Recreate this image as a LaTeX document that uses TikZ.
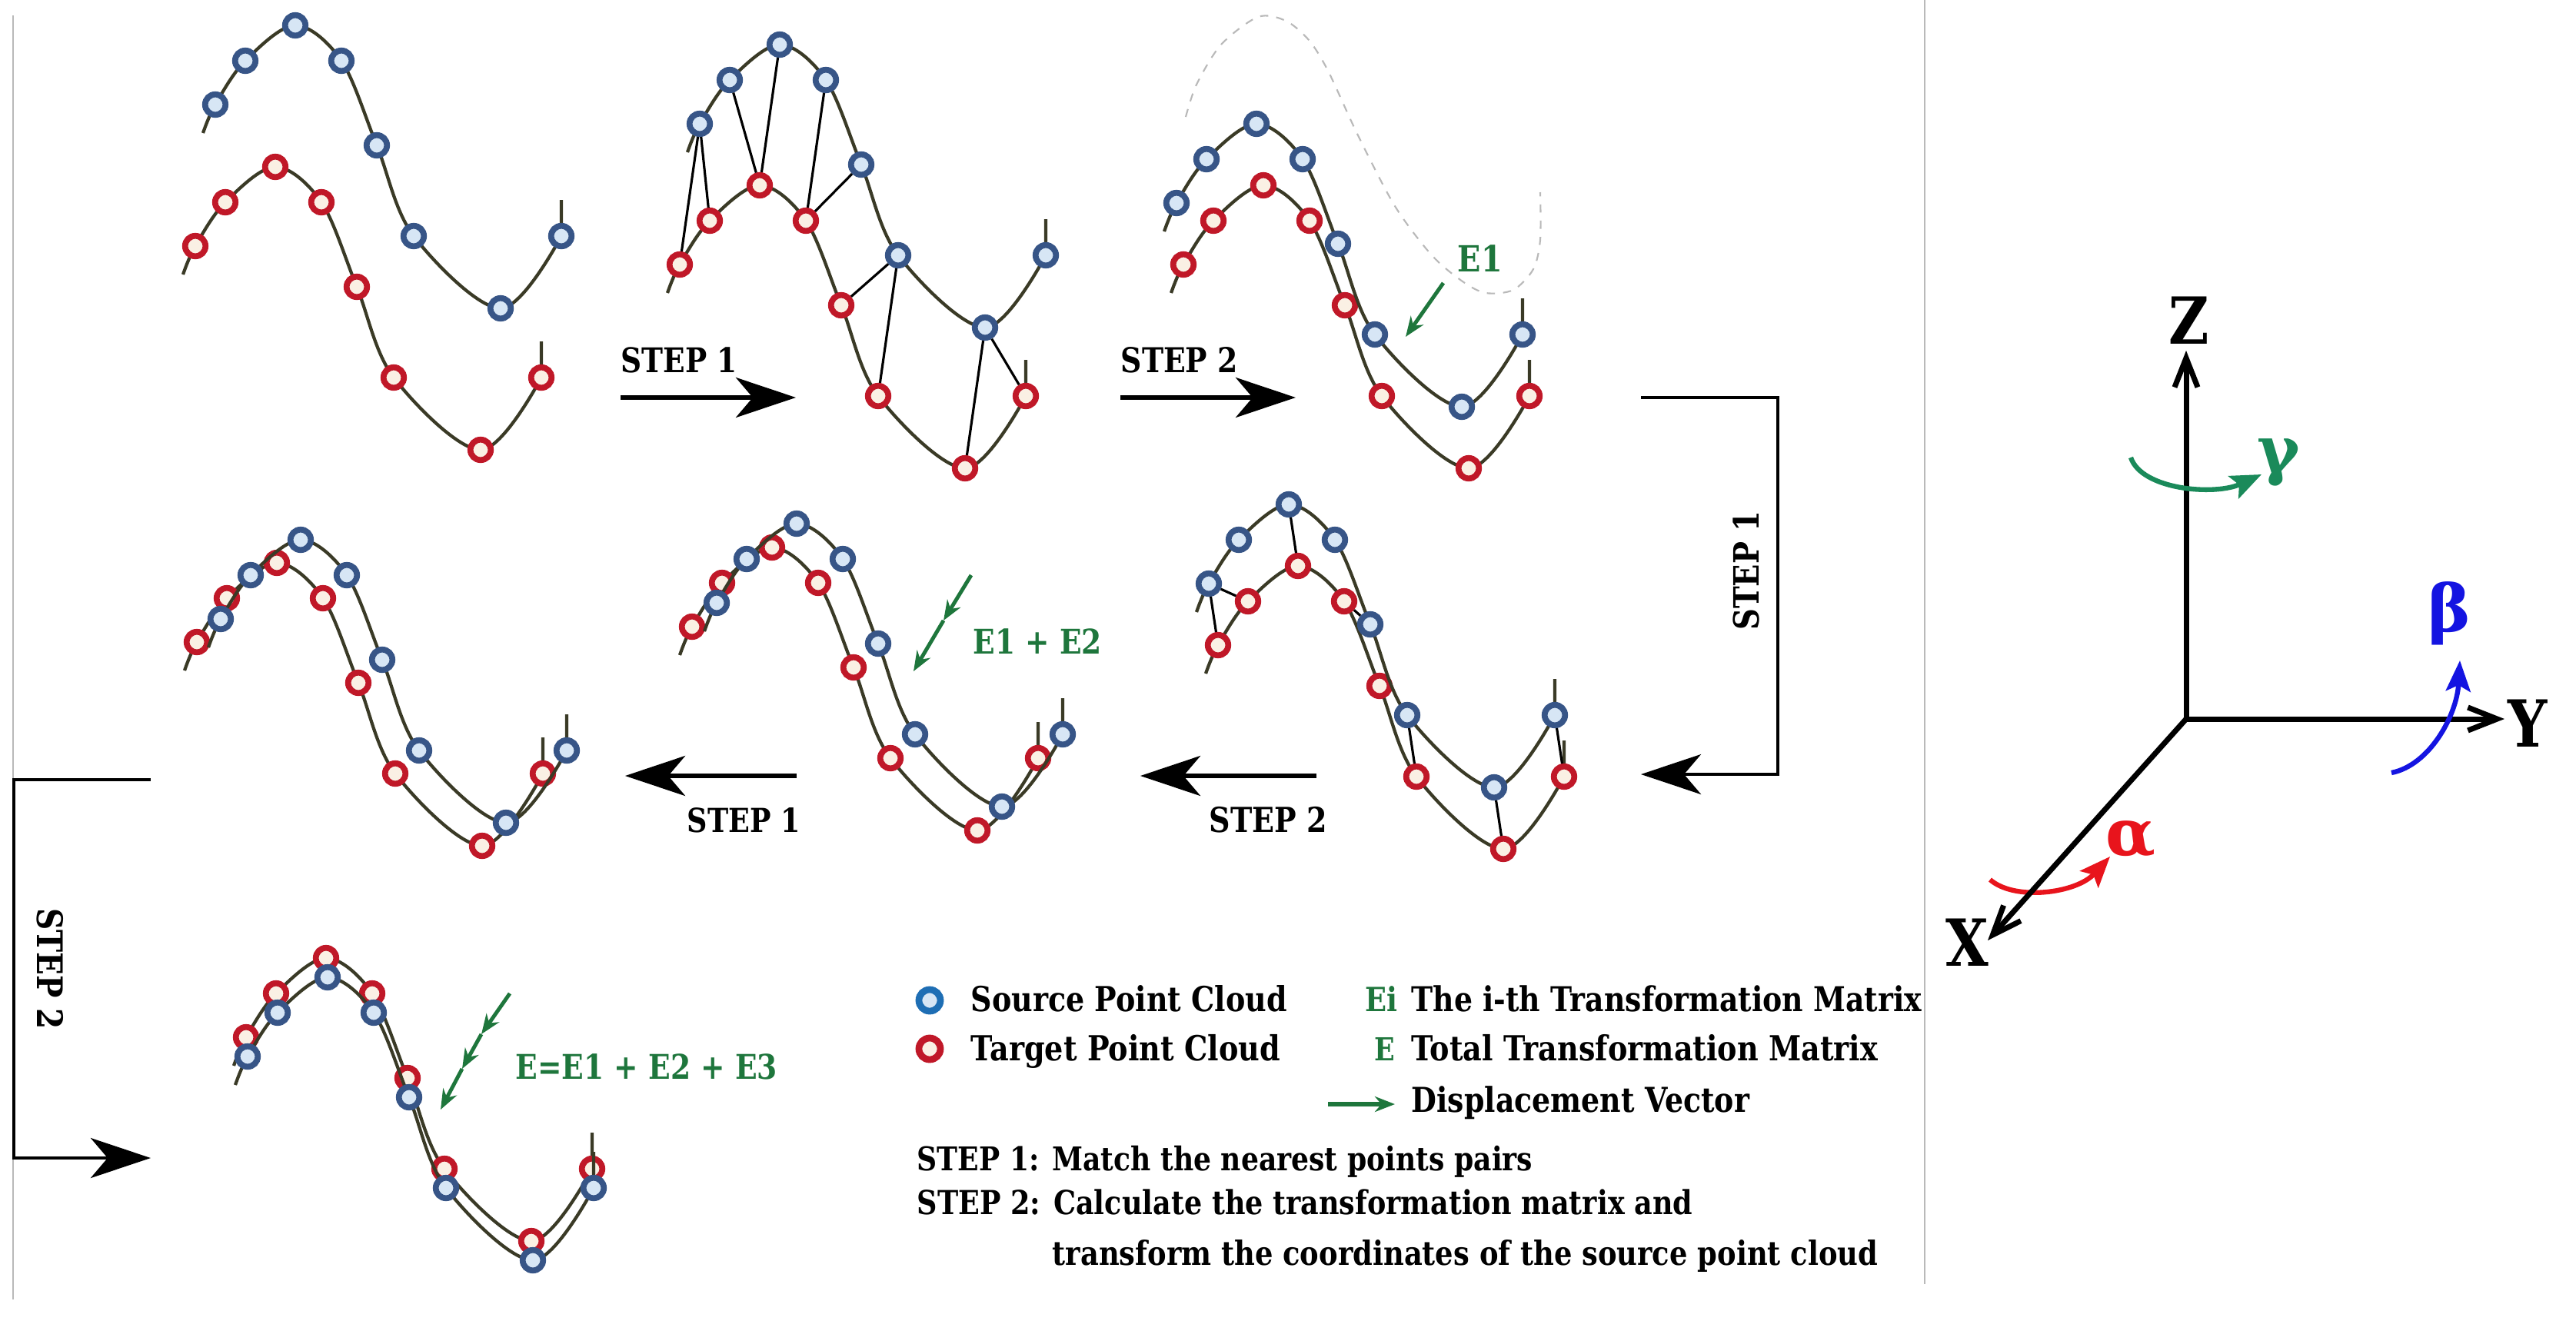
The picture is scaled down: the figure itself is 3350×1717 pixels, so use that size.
\documentclass[tikz,border=0pt]{standalone}
\usepackage{graphicx}
\usepackage{fontspec}
\setmainfont{DejaVu Serif}[FakeStretch=0.85]
\newfontfamily\grkfont{DejaVu Serif}
\usetikzlibrary{arrows.meta}
\definecolor{curvec}{RGB}{58,58,38}
\definecolor{bluec}{RGB}{55,85,135}
\definecolor{bluef}{RGB}{215,230,245}
\definecolor{redc}{RGB}{192,24,40}
\definecolor{redf}{RGB}{250,240,228}
\definecolor{lgblue}{RGB}{30,110,180}
\definecolor{greenc}{RGB}{30,118,60}
\definecolor{gammac}{RGB}{26,138,90}
\definecolor{betac}{RGB}{20,20,225}
\definecolor{alphac}{RGB}{232,20,28}
\definecolor{sepc}{RGB}{185,185,185}
\newcommand{\fw}[2]{\resizebox{#1}{!}{#2}}
\tikzset{
  curve/.style={draw=curvec, line width=1.2pt},
  bpt/.style={circle, draw=bluec, fill=bluef, line width=2.2pt, minimum size=0.265cm, inner sep=0pt},
  rpt/.style={circle, draw=redc, fill=redf, line width=2.2pt, minimum size=0.265cm, inner sep=0pt},
  match/.style={draw=black, line width=0.9pt},
  bigarrow/.style={line width=1.6pt, -{Stealth[length=0.78cm,width=0.52cm,inset=0.22cm]}},
  brack/.style={line width=1.4pt, -{Stealth[length=0.78cm,width=0.52cm,inset=0.22cm]}},
  garrow/.style={draw=greenc, line width=1.4pt, -{Stealth[length=0.26cm,width=0.2cm]}},
  ghost/.style={draw=sepc, dashed, line width=0.6pt},
  sep/.style={draw=sepc, line width=0.8pt},
  txt/.style={inner sep=0pt, anchor=base west, font=\fontsize{14}{16}\selectfont\bfseries},
  gtxt/.style={txt, text=greenc},
  axis/.style={line width=2pt, -{Straight Barb[length=0.38cm,width=0.3cm]}},
  axl/.style={inner sep=0pt, font=\fontsize{24}{24}\selectfont\bfseries},
  grk/.style={inner sep=0pt, font=\grkfont\fontsize{24}{24}\selectfont\bfseries},
  rot/.style={line width=1.8pt, -{Stealth[length=0.4cm,width=0.32cm,inset=0.08cm]}},
  pics/wave/.style={code={
    \draw[curve] plot[smooth,tension=0.55] coordinates {(-120,140) (-104,103) (-65,46) (0,0) (60,46) (106,156) (154,274) (267,368) (346,274)} -- (346,227);
    \foreach \n/\ax/\ay in {1/-104/103,2/-65/46,3/0/0,4/60/46,5/106/156,6/154/274,7/267/368,8/346/274}
      \node[#1] (-\n) at (\ax,\ay) {};
  }}
}
\begin{document}
\begin{tikzpicture}[x=0.01cm,y=-0.01cm]
\path[use as bounding box, fill=white] (0,0) rectangle (3350,1717);
% separators
\coordinate (sepL1) at (17,20); \coordinate (sepL2) at (17,1690);
\coordinate (sepR1) at (2503,0); \coordinate (sepR2) at (2503,1670);
\draw[sep] (sepL1) -- (sepL2);
\draw[sep] (sepR1) -- (sepR2);
% P1
\pic (p1r) at (358,217) {wave=rpt};
\pic (p1b) at (384,33) {wave=bpt};
% P2
\pic (p2r) at (988,241) {wave=rpt};
\pic (p2b) at (1014,58) {wave=bpt};
\foreach \a/\b in {1/1,1/2,2/3,3/3,4/4,5/4,6/5,6/6,7/7,7/8} \draw[match] (p2b-\a) -- (p2r-\b);
% P3
\draw[ghost] plot[smooth] coordinates {(1542,152) (1556,110) (1588,58) (1636,22) (1672,27) (1702,52) (1727,92) (1766,176) (1814,268) (1862,332) (1902,366) (1932,381) (1968,377) (1994,350) (2003,312) (2003,250)};
\pic (p3r) at (1643,241) {wave=rpt};
\pic (p3b) at (1634,161) {wave=bpt};
\coordinate (e1s) at (1877,368); \coordinate (e1e) at (1828,438);
\draw[garrow] (e1s) -- (e1e);
\node[gtxt] (e1l) at (1895,353) {\fw{0.58cm}{E1}};
% P4
\pic (p4r) at (1688,736) {wave=rpt};
\pic (p4b) at (1676,656) {wave=bpt};
\foreach \a/\b in {1/1,1/2,3/3,5/4,6/6,7/7,8/8} \draw[match] (p4b-\a) -- (p4r-\b);
% P5
\pic (p5r) at (1004,712) {wave=rpt};
\pic (p5b) at (1036,681) {wave=bpt};
\coordinate (e2s) at (1263,748); \coordinate (e2m) at (1227,807); \coordinate (e2e) at (1188,873);
\draw[garrow] (e2s) -- (e2m);
\draw[garrow] (e2m) -- (e2e);
\node[gtxt] (e2l) at (1265,850) {\fw{1.67cm}{E1 + E2}};
% P6
\pic (p6r) at (360,732) {wave=rpt};
\pic (p6b) at (391,702) {wave=bpt};
% P7
\pic (p7r) at (424,1246) {wave=rpt};
\pic (p7b) at (426,1271) {wave=bpt};
\coordinate (e3s) at (663,1292); \coordinate (e3a) at (626,1345); \coordinate (e3b) at (601,1390); \coordinate (e3e) at (573,1443);
\draw[garrow] (e3s) -- (e3a);
\draw[garrow] (e3a) -- (e3b);
\draw[garrow] (e3b) -- (e3e);
\node[gtxt] (e3l) at (670,1403) {\fw{3.4cm}{E=E1 + E2 + E3}};
% step arrows
\coordinate (a1s) at (807,517); \coordinate (a1e) at (1035,517);
\draw[bigarrow] (a1s) -- (a1e);
\node[txt] (a1l) at (807,484) {\fw{1.51cm}{STEP 1}};
\coordinate (a2s) at (1457,517); \coordinate (a2e) at (1685,517);
\draw[bigarrow] (a2s) -- (a2e);
\node[txt] (a2l) at (1457,484) {\fw{1.52cm}{STEP 2}};
\coordinate (a3s) at (1712,1009); \coordinate (a3e) at (1483,1009);
\draw[bigarrow] (a3s) -- (a3e);
\node[txt] (a3l) at (1572,1082) {\fw{1.53cm}{STEP 2}};
\coordinate (a4s) at (1036,1009); \coordinate (a4e) at (813,1009);
\draw[bigarrow] (a4s) -- (a4e);
\node[txt] (a4l) at (893,1082) {\fw{1.47cm}{STEP 1}};
% right bracket
\coordinate (rb1) at (2134,517); \coordinate (rb2) at (2312,517); \coordinate (rb3) at (2312,1007); \coordinate (rb4) at (2134,1007);
\draw[brack] (rb1) -- (rb2) -- (rb3) -- (rb4);
\node[inner sep=0pt, rotate=90, font=\fontsize{14}{16}\selectfont\bfseries] (rbl) at (2271,742) {\fw{1.55cm}{STEP 1}};
% left bracket
\coordinate (lb1) at (196,1014); \coordinate (lb2) at (18,1014); \coordinate (lb3) at (18,1506); \coordinate (lb4) at (196,1506);
\draw[brack] (lb1) -- (lb2) -- (lb3) -- (lb4);
\node[inner sep=0pt, rotate=-90, font=\fontsize{14}{16}\selectfont\bfseries] (lbl) at (65,1260) {\fw{1.57cm}{STEP 2}};
% legend
\node[bpt, draw=lgblue, minimum size=0.28cm, line width=2.5pt] (lgb) at (1209,1301) {};
\node[rpt, minimum size=0.28cm, line width=2.5pt] (lgr) at (1209,1364) {};
\node[txt] (lgbt) at (1262,1315) {\fw{4.11cm}{Source Point Cloud}};
\node[txt] (lgrt) at (1262,1379) {\fw{4.02cm}{Target Point Cloud}};
\node[gtxt] (lgei) at (1775,1315) {\fw{0.42cm}{Ei}};
\node[txt] (lgeit) at (1835,1315) {\fw{6.63cm}{The i-th Transformation Matrix}};
\node[gtxt] (lge) at (1787,1379) {\resizebox{!}{0.30cm}{E}};
\node[txt] (lget) at (1835,1379) {\fw{6.06cm}{Total Transformation Matrix}};
\coordinate (lga1) at (1727,1436); \coordinate (lga2) at (1814,1436);
\draw[garrow, line width=1.6pt] (lga1) -- (lga2);
\node[txt] (lgat) at (1835,1446) {\fw{4.39cm}{Displacement Vector}};
\node[txt] (s1t) at (1192,1522) {\fw{8.0cm}{STEP 1: Match the nearest points pairs}};
\node[txt] (s2t) at (1192,1579) {\fw{10.08cm}{STEP 2: Calculate the transformation matrix and}};
\node[txt] (s2u) at (1368,1645) {\fw{10.73cm}{transform the coordinates of the source point cloud}};
% axes
\coordinate (O) at (2843,935);
\coordinate (Zt) at (2843,456);
\coordinate (Yt) at (3257,935);
\coordinate (Xt) at (2585,1223);
\draw[alphac, rot] (2588,1144) .. controls (2620,1172) and (2700,1162) .. (2744,1114);
\draw[axis] (O) -- (Zt);
\draw[axis] (O) -- (Yt);
\draw[axis] (O) -- (Xt);
\node[axl] (zl) at (2847,417) {Z};
\node[axl] (yl) at (3287,941) {Y};
\node[axl] (xl) at (2558,1226) {X};
\draw[gammac, rot] (2771,595) .. controls (2785,637) and (2880,645) .. (2941,617);
\draw[betac, rot] (3110,1005) .. controls (3160,995) and (3195,930) .. (3199,859);
\node[grk, text=gammac] (gl) at (2963,601) {γ};
\node[grk, text=betac] (bl) at (3185,798) {β};
\node[grk, text=alphac] (al) at (2771,1092) {α};
\end{tikzpicture}
\end{document}
